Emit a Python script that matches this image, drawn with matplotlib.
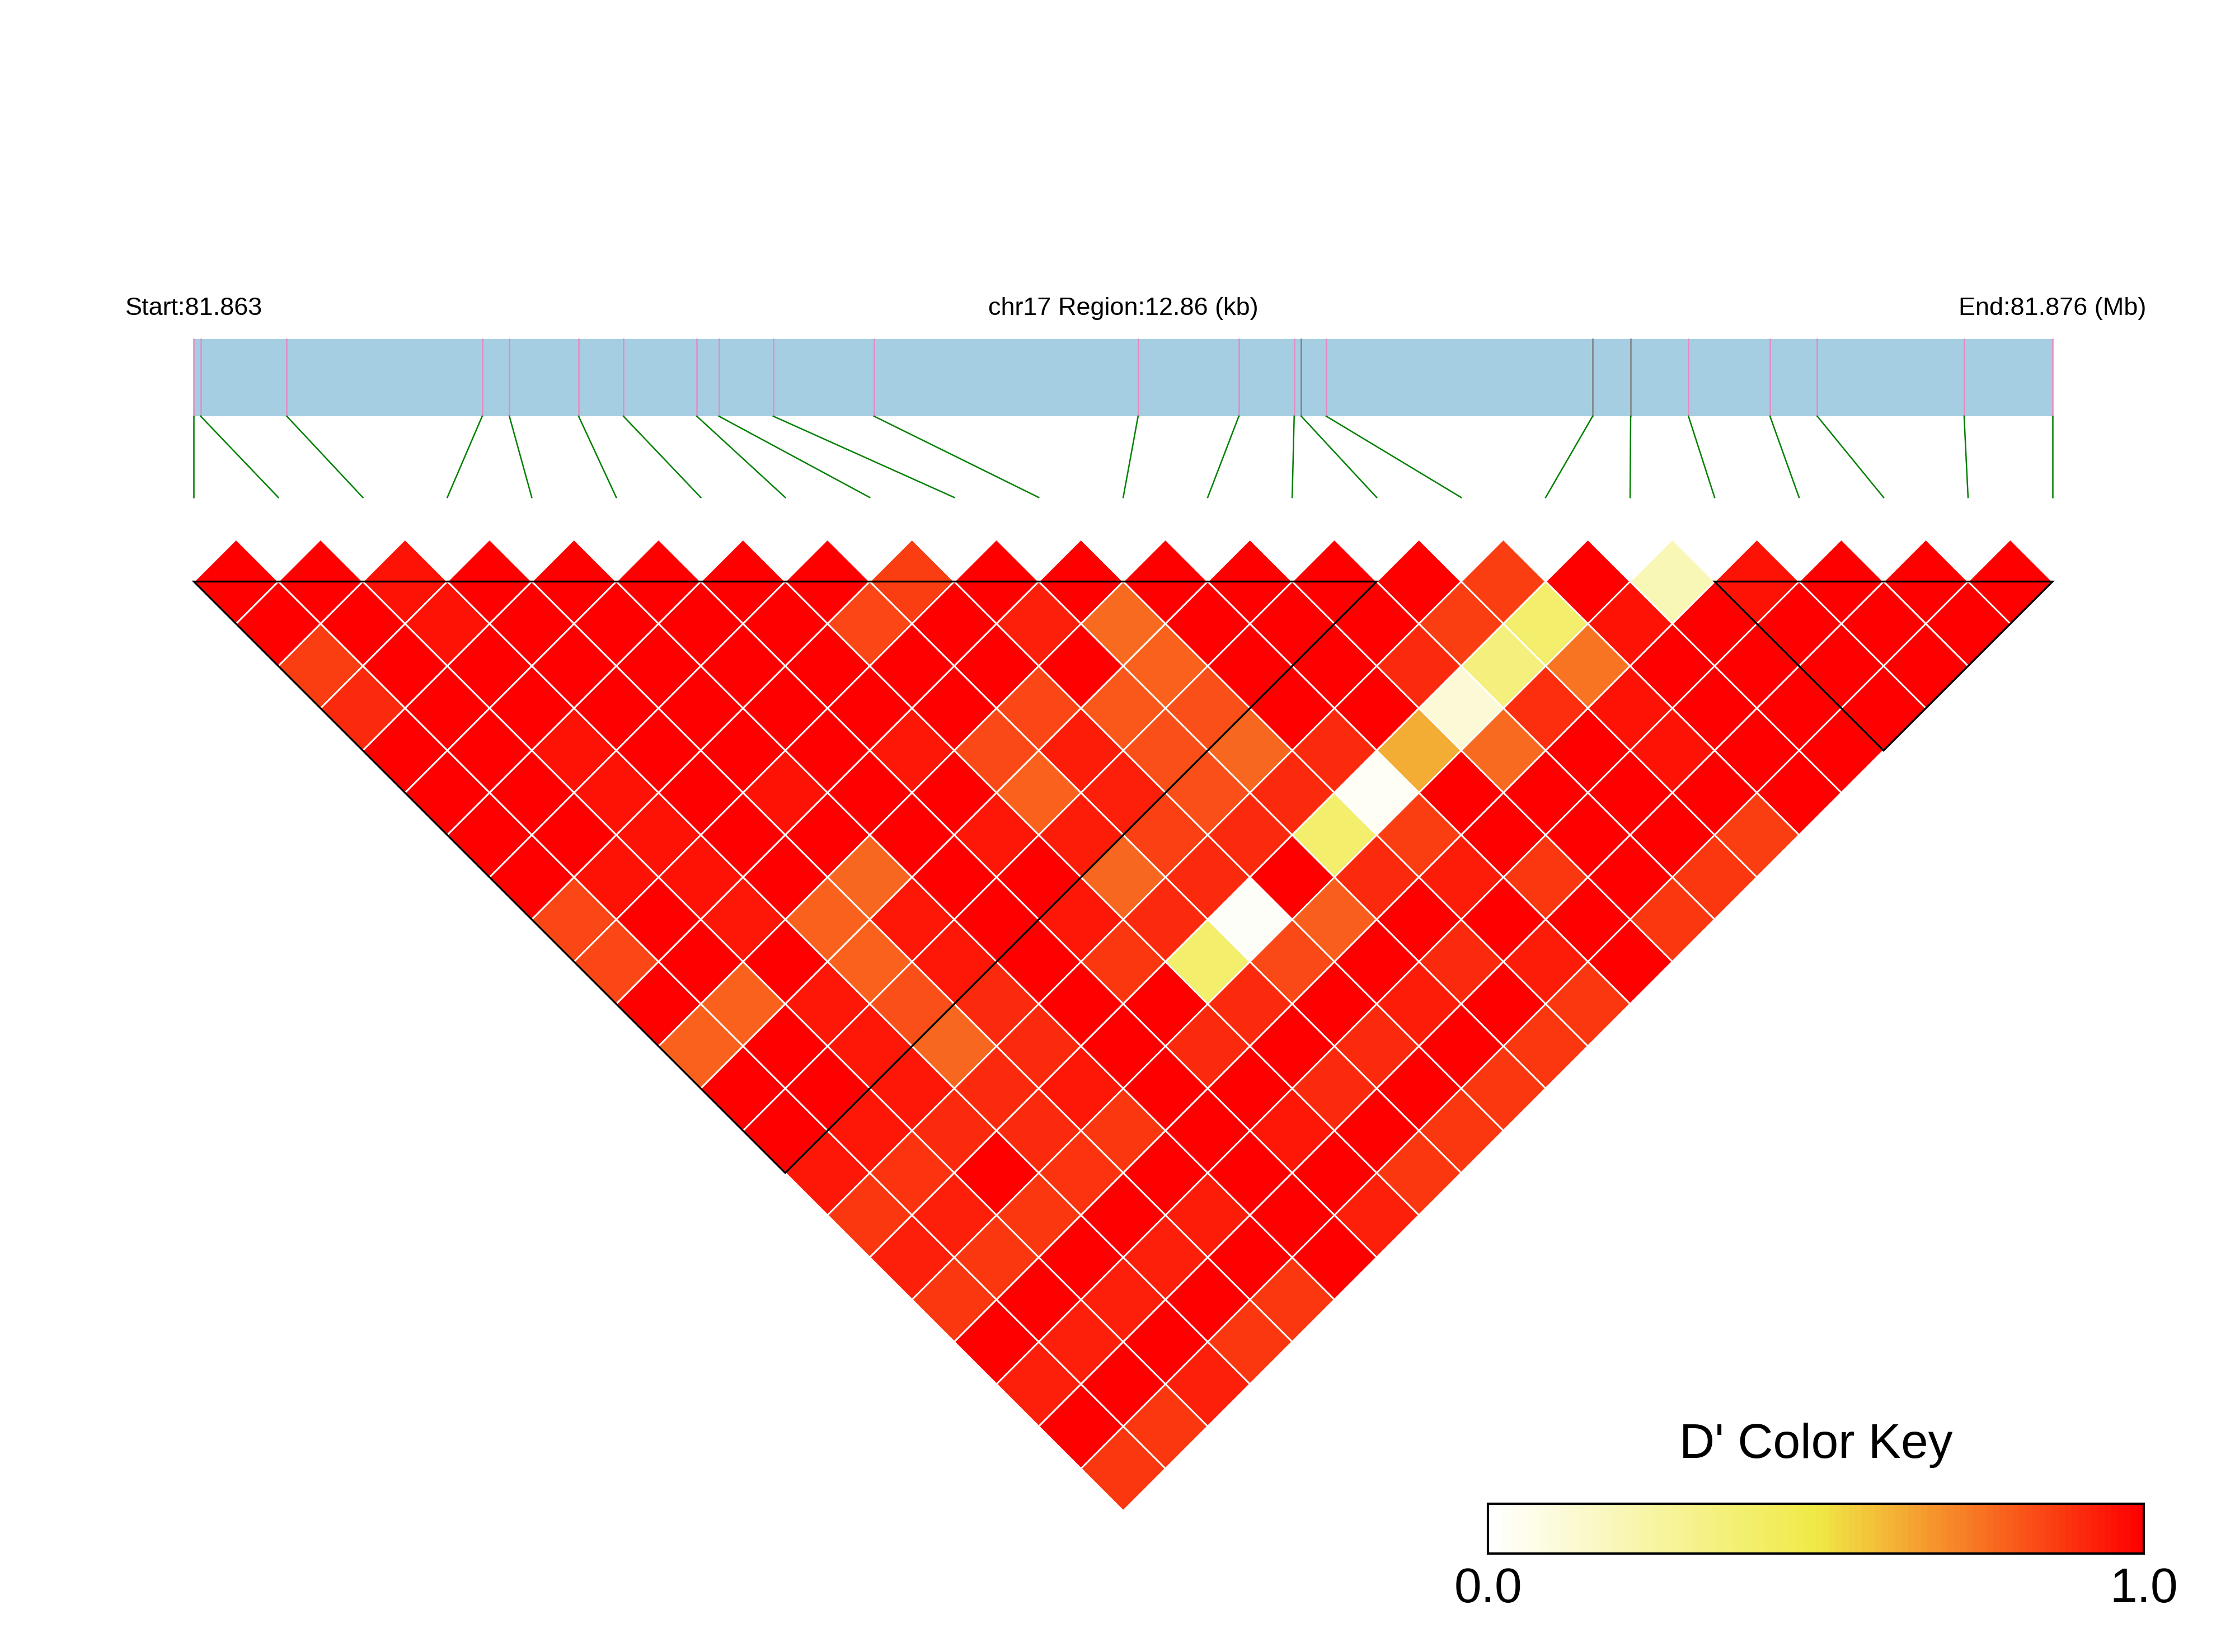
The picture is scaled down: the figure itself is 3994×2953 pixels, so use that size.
import matplotlib
matplotlib.use("Agg")
import matplotlib.pyplot as plt
from matplotlib.patches import Polygon, Rectangle
from matplotlib.colors import LinearSegmentedColormap

plt.rcParams['font.family'] = ['Liberation Sans', 'DejaVu Sans']

# ---- data ----
chrom = "chr17"
snp_pos = [81863120, 81863167, 81863763, 81865115, 81865303, 81865782,
           81866092, 81866600, 81866753, 81867129, 81867826, 81869653,
           81870350, 81870733, 81870782, 81870955, 81872798, 81873061,
           81873461, 81874025, 81874352, 81875368, 81875980]
# marker colour of each SNP in the region bar
snp_mark = ['pink'] * 14 + ['grey', 'pink', 'grey', 'grey'] + ['pink'] * 5

# D' values, one list per SNP distance (j - i = 1, 2, ...), i from left
dprime_rows = [
    [1, 1, .96, 1, 1, 1, 1, 1, .87, 1, 1, 1, 1, 1, 1, .87, 1, .20, .96, 1, 1, 1],
    [1, 1, .96, 1, 1, 1, 1, .85, 1, .93, .77, 1, 1, 1, .87, .40, .96, 1, 1, 1, 1],
    [.87, 1, 1, 1, 1, 1, 1, 1, 1, 1, .79, 1, 1, .91, .35, .75, 1, 1, 1, 1],
    [.91, 1, 1, 1, 1, 1, 1, 1, .85, .81, .83, 1, 1, .11, .90, .96, 1, 1, 1],
    [1, 1, .96, 1, 1, 1, .95, .84, .94, .83, .78, .91, .63, .77, 1, .96, 1, 1],
    [1, 1, .96, 1, .96, 1, 1, .79, .93, .83, .91, .03, 1, 1, 1, 1, 1],
    [1, 1, .96, 1, 1, 1, .95, .94, .86, .91, .40, .87, 1, 1, 1, .87],
    [1, .96, .96, 1, .78, 1, 1, .78, .91, 1, .91, .94, .88, 1, .88],
    [.85, 1, .95, .79, .95, 1, .95, .91, .02, .80, 1, 1, 1, .88],
    [.85, 1, 1, .79, .95, 1, .88, .40, .84, 1, .91, .94, 1],
    [1, .79, .95, .83, .91, 1, 1, .91, 1, .94, 1, .88],
    [.79, 1, .95, .78, .91, 1, .91, 1, .91, 1, .88],
    [1, 1, .95, .91, .95, 1, 1, .91, 1, .88],
    [1, .95, .91, .91, .88, 1, .95, 1, .88],
    [.95, .89, 1, .89, 1, 1, 1, .88],
    [.88, .93, .88, 1, .94, 1, .93],
    [.93, .88, 1, .93, 1, 1],
    [.88, 1, .93, 1, .88],
    [1, .93, 1, .88],
    [.93, 1, .93],
    [1, .88],
    [.88],
]
# haplotype blocks (first SNP index, last SNP index)
blocks = [(0, 14), (18, 22)]

key_title = "D' Color Key"
key_labels = ["0.0", "1.0"]

# ---- layout (units of the 1568 x 1159 canvas) ----
X0, X1 = 136, 1440
BAR_TOP, BAR_BOT = 238, 292
LINK_BOT = 349
HEAT_TOP = 408

cmap = LinearSegmentedColormap.from_list(
    "ld", [(0, "#FFFFFF"), (0.5, "#F0EA46"), (1, "#FF0000")])
mark_colors = {'pink': '#E78AC3', 'grey': '#7F7F7F'}

fig = plt.figure(figsize=(3994 / 300, 2953 / 300), dpi=300)
ax = fig.add_axes([0, 0, 1, 1])
ax.set_xlim(0, 1568)
ax.set_ylim(1159, 0)
ax.axis('off')

n = len(snp_pos)
h = (X1 - X0) / (n - 1) / 2
span = snp_pos[-1] - snp_pos[0]
phys_x = [X0 + (p - snp_pos[0]) / span * (X1 - X0) for p in snp_pos]
even_x = [X0 + k * 2 * h for k in range(n)]

# region bar
ax.add_patch(Rectangle((X0, BAR_TOP), X1 - X0, BAR_BOT - BAR_TOP,
                       facecolor='#A6CEE3', edgecolor='none'))
for k in range(n):
    ax.plot([phys_x[k], phys_x[k]], [BAR_TOP, BAR_BOT],
            color=mark_colors[snp_mark[k]], lw=0.6)
    ax.plot([phys_x[k], even_x[k]], [BAR_BOT, LINK_BOT], color='#008000', lw=0.6)

ax.text(X0, 221, "Start:%.3f" % (snp_pos[0] / 1e6), ha='center', va='baseline', fontsize=10.8)
ax.text((X0 + X1) / 2, 221, "%s Region:%.2f (kb)" % (chrom, span / 1000),
        ha='center', va='baseline', fontsize=10.8)
ax.text(X1, 221, "End:%.3f (Mb)" % (snp_pos[-1] / 1e6), ha='center', va='baseline', fontsize=10.8)

# LD diamonds
for d, row in enumerate(dprime_rows, start=1):
    for i, v in enumerate(row):
        j = i + d
        cx = X0 + (i + j) * h
        cy = HEAT_TOP + (d - 1) * h
        ax.add_patch(Polygon([(cx - h, cy), (cx, cy - h), (cx + h, cy), (cx, cy + h)],
                             closed=True, facecolor=cmap(float(v)), edgecolor='white', lw=0.7))

# block outlines
for a, b in blocks:
    xa, xb = even_x[a], even_x[b]
    ax.add_patch(Polygon([(xa, HEAT_TOP), (xb, HEAT_TOP),
                          ((xa + xb) / 2, HEAT_TOP + (b - a) * h)],
                         closed=True, fill=False, edgecolor='black', lw=0.8))

# colour key
KX0, KX1, KY0, KY1 = 1044, 1504, 1055, 1090
nstrip = 100
sw = (KX1 - KX0) / nstrip
for s in range(nstrip):
    ax.add_patch(Rectangle((KX0 + s * sw, KY0), sw * 1.02, KY1 - KY0,
                           facecolor=cmap(s / (nstrip - 1)), edgecolor='none'))
ax.add_patch(Rectangle((KX0, KY0), KX1 - KX0, KY1 - KY0, fill=False,
                       edgecolor='black', lw=1.0))
ax.text((KX0 + KX1) / 2, 1023, key_title, ha='center', va='baseline', fontsize=21)
ax.text(KX0, 1124, key_labels[0], ha='center', va='baseline', fontsize=21)
ax.text(KX1, 1124, key_labels[1], ha='center', va='baseline', fontsize=21)

fig.savefig("out.png", dpi=300)
